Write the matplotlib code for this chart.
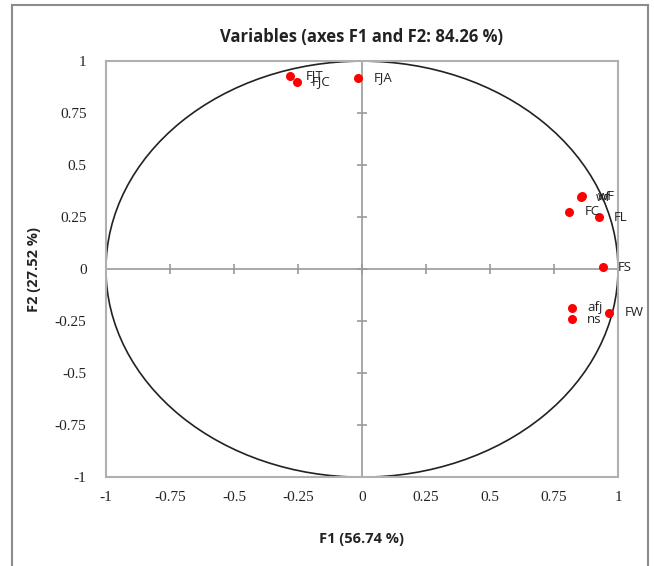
import matplotlib.pyplot as plt
import numpy as np
from matplotlib.patches import Circle
from matplotlib.lines import Line2D

# variable coordinates on F1 / F2
names = ["FJT", "FJC", "FJA", "wf", "wF", "FC", "FL", "FS", "afj", "ns", "FW"]
f1 = [-0.28, -0.255, -0.015, 0.855, 0.86, 0.81, 0.925, 0.94, 0.82, 0.82, 0.965]
f2 = [0.93, 0.90, 0.92, 0.345, 0.35, 0.275, 0.25, 0.01, -0.185, -0.24, -0.21]

ticks = [-1, -0.75, -0.5, -0.25, 0, 0.25, 0.5, 0.75, 1]
tick_labels = ["-1", "-0.75", "-0.5", "-0.25", "0", "0.25", "0.5", "0.75", "1"]

title = "Variables (axes F1 and F2: 84.26 %)"
xlab = "F1 (56.74 %)"
ylab = "F2 (27.52 %)"

fig = plt.figure(figsize=(6.54, 5.66), dpi=100)
ax = fig.add_axes([0.162, 0.157, 0.783, 0.735])

# outer chart frame (left, top, right)
frame = "#8c8c8c"
fig.add_artist(Line2D([12/654, 12/654], [0, 1-5/566], color=frame, lw=1.5, transform=fig.transFigure))
fig.add_artist(Line2D([12/654, 648/654], [1-5/566, 1-5/566], color=frame, lw=1.5, transform=fig.transFigure))
fig.add_artist(Line2D([648/654, 648/654], [0, 1-5/566], color=frame, lw=1.5, transform=fig.transFigure))

ax.set_xlim(-1, 1)
ax.set_ylim(-1, 1)
for s in ax.spines.values():
    s.set_color("#b0b0b0")
    s.set_linewidth(1.5)

# zero axes with crossing tick marks
axcol = "#9a9a9a"
ax.axhline(0, color=axcol, lw=1.2, zorder=1)
ax.axvline(0, color=axcol, lw=1.2, zorder=1)
ax.plot(ticks, np.zeros(len(ticks)), ls="none", marker="|", ms=7, mew=1.2, color=axcol, zorder=1)
ax.plot(np.zeros(len(ticks)), ticks, ls="none", marker="_", ms=7, mew=1.2, color=axcol, zorder=1)

ax.add_patch(Circle((0, 0), 1, fill=False, color="#222222", lw=1.2, zorder=2))

ax.scatter(f1, f2, s=30, color="#ff0000", zorder=3)
for n, x, y in zip(names, f1, f2):
    ax.annotate(n, (x, y), xytext=(11, 0), textcoords="offset points",
                va="center", ha="left", fontsize=9.5, color="#222222",
                family="Open Sans", zorder=4)

ax.set_xticks(ticks)
ax.set_xticklabels(tick_labels)
ax.set_yticks(ticks)
ax.set_yticklabels(tick_labels)
ax.tick_params(length=0, labelsize=11, colors="#222222")
ax.tick_params(axis="x", pad=10)
ax.tick_params(axis="y", pad=14)
for lab in ax.get_xticklabels() + ax.get_yticklabels():
    lab.set_family("Liberation Serif")

ax.set_title(title, fontsize=12, fontweight="bold", family="Open Sans", pad=14, color="#222222")
ax.set_xlabel(xlab, fontsize=10.5, fontweight="bold", family="Open Sans", labelpad=20, color="#222222")
ax.set_ylabel(ylab, fontsize=10.5, fontweight="bold", family="Open Sans", labelpad=10, color="#222222")

fig.savefig("out.png", dpi=100)
